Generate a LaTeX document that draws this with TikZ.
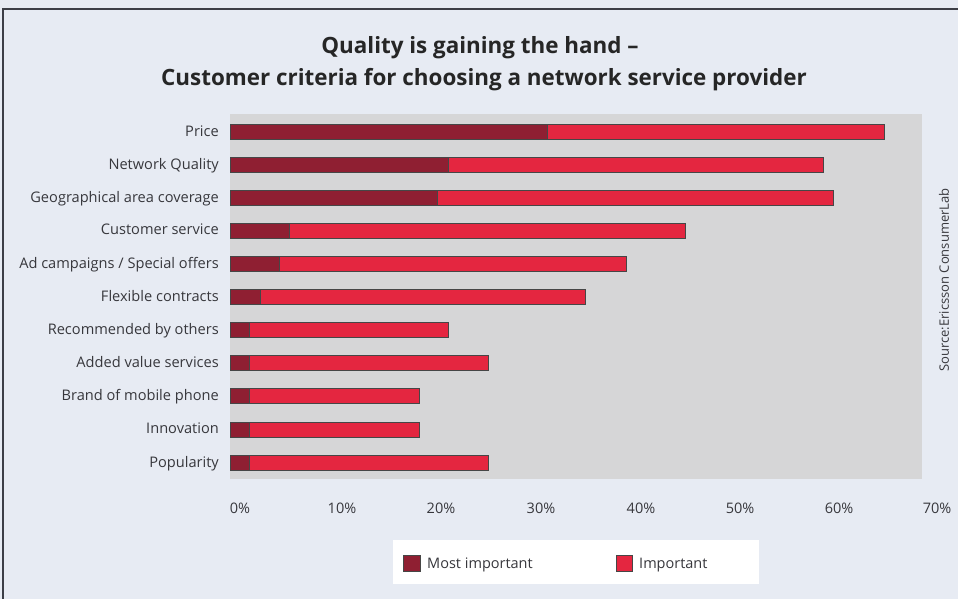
\documentclass[tikz,border=0pt]{standalone}
\usepackage{fontspec}
\setmainfont{Open Sans}
\definecolor{bgcol}{RGB}{231,235,243}
\definecolor{plotgray}{RGB}{214,214,215}
\definecolor{darkred}{RGB}{143,31,50}
\definecolor{brightred}{RGB}{228,38,64}
\definecolor{outl}{RGB}{70,70,70}
\definecolor{txt}{RGB}{55,55,60}
\definecolor{framecol}{RGB}{60,62,70}
\tikzset{
  catlab/.style={anchor=base east,inner sep=0pt,text=txt,font=\fontsize{14.6}{17}\selectfont},
  ticklab/.style={inner sep=0pt,text=txt,font=\fontsize{14.5}{17}\selectfont},
  titlab/.style={anchor=base,inner sep=0pt,text=black!85,font=\fontsize{22.4}{26}\selectfont\bfseries},
  mostbar/.style={fill=darkred},
  impbar/.style={fill=brightred},
  baredge/.style={draw=outl,line width=0.9pt},
}
\begin{document}
\begin{tikzpicture}[x=1pt,y=-1pt]
\useasboundingbox (0,0) rectangle (958,599);
\fill[bgcol] (0,0) rectangle (958,599);
\draw[framecol,line width=1.2pt] (3,599) -- (3,9) -- (958,9);
% title
\node[titlab] (t1) at (480,54) {Quality is gaining the hand –};
\node[titlab] (t2) at (484,86) {Customer criteria for choosing a network service provider};
% plot area
\fill[plotgray] (230,114) rectangle (922,479);
% bars: y / dark end / total end
\foreach \yy/\dk/\tt in {132/547/884, 165/448/823.5, 198/437.5/833.5, 230.5/289/685, 263.7/279/626, 297/260/585.7, 330/249.5/448, 363/249.5/488.5, 396/249.5/419.3, 429.5/249.5/419.3, 463/249.5/488.5}{
  \fill[mostbar] (230.5,\yy-7.5) rectangle (\dk,\yy+7.5);
  \fill[impbar] (\dk,\yy-7.5) rectangle (\tt,\yy+7.5);
  \draw[baredge] (230.5,\yy-7.5) rectangle (\tt,\yy+7.5);
  \draw[baredge] (\dk,\yy-7.5) -- (\dk,\yy+7.5);
}
% category labels
\node[catlab] (c1) at (219,136) {Price};
\node[catlab] (c2) at (219,169) {Network Quality};
\node[catlab] (c3) at (219,202) {Geographical area coverage};
\node[catlab] (c4) at (219,234.5) {Customer service};
\node[catlab] (c5) at (219,268) {Ad campaigns / Special offers};
\node[catlab] (c6) at (219,301) {Flexible contracts};
\node[catlab] (c7) at (219,334) {Recommended by others};
\node[catlab] (c8) at (219,367) {Added value services};
\node[catlab] (c9) at (219,400) {Brand of mobile phone};
\node[catlab] (c10) at (219,433.5) {Innovation};
\node[catlab] (c11) at (219,467) {Popularity};
% axis tick labels
\node[ticklab,anchor=base] (x0) at (240,513) {0\%};
\node[ticklab,anchor=base] (x1) at (342,513) {10\%};
\node[ticklab,anchor=base] (x2) at (441,513) {20\%};
\node[ticklab,anchor=base] (x3) at (541,513) {30\%};
\node[ticklab,anchor=base] (x4) at (641,513) {40\%};
\node[ticklab,anchor=base] (x5) at (740,513) {50\%};
\node[ticklab,anchor=base] (x6) at (839,513) {60\%};
\node[ticklab,anchor=base] (x7) at (937,513) {70\%};
% source
\node[ticklab,rotate=90,font=\fontsize{13}{15}\selectfont] (src) at (944,280) {Source:Ericsson ConsumerLab};
% legend
\fill[white] (392.5,540) rectangle (759,583.5);
\draw[baredge,mostbar] (403.5,555) rectangle (420,571);
\node[ticklab,anchor=base west] (l1) at (427,568) {Most important};
\draw[baredge,impbar] (616,555) rectangle (632,571);
\node[ticklab,anchor=base west] (l2) at (639,568) {Important};
\end{tikzpicture}
\end{document}
